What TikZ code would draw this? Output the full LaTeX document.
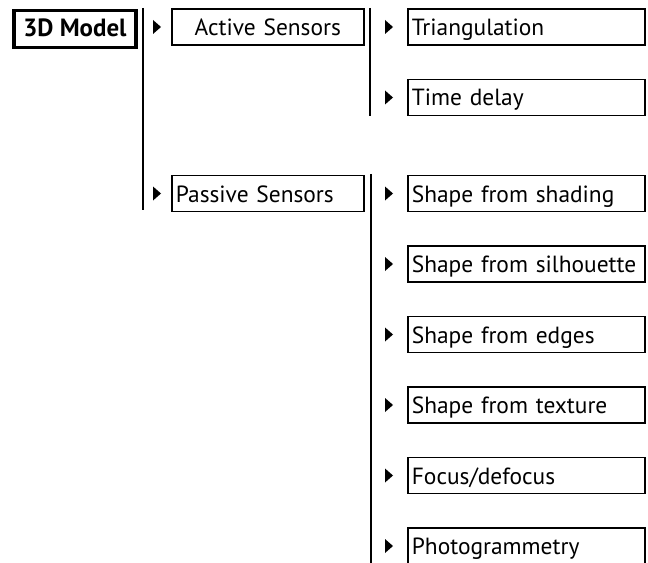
\documentclass[tikz,border=0pt]{standalone}
\usepackage{fontspec}
\setmainfont{PT Sans}
% keep every box label on a single line
\hyphenpenalty=10000
\exhyphenpenalty=10000
\begin{document}
\begin{tikzpicture}[x=1bp,y=-1bp,
  box/.style={draw, line width=1.7bp, inner xsep=4bp, inner ysep=0pt,
    minimum height=36bp, text height=19bp, text depth=2bp,
    font=\fontsize{23.5}{26}\selectfont, anchor=west},
  midbox/.style={box, text width=184bp},
  leafbox/.style={box, text width=229bp, align=left},
  bar/.style={line width=1.8bp},
  tip/.style={fill=black}
]
\useasboundingbox (0,0) rectangle (648,563);

% root
\node[draw, line width=3.8bp, inner xsep=3bp, inner ysep=0pt,
  minimum width=122bp, minimum height=37bp, text height=17bp, text depth=2bp,
  font=\fontsize{25}{28}\selectfont\bfseries, anchor=west] (root) at (12,29) {3D Model};

% second level
\node[midbox, align=center] (act) at (171,27) {Active Sensors};
\node[midbox, align=left] (pas) at (171,193.5) {Passive Sensors};

% leaves
\node[leafbox] (tri) at (407,27) {Triangulation};
\node[leafbox] (tdl) at (407,97.5) {Time delay};
\node[leafbox] (sha) at (407,193.5) {Shape from shading};
\node[leafbox] (sil) at (407,264) {Shape from silhouette};
\node[leafbox] (edg) at (407,334.5) {Shape from edges};
\node[leafbox] (tex) at (407,405) {Shape from texture};
\node[leafbox] (foc) at (407,475.5) {Focus/defocus};
\node[leafbox] (pho) at (407,546) {Photogrammetry};

% bracket bars
\coordinate (b1t) at (143,8);   \coordinate (b1b) at (143,210);
\coordinate (b2t) at (370,8);   \coordinate (b2b) at (370,116);
\coordinate (b3t) at (371,174); \coordinate (b3b) at (371,563);
\draw[bar] (b1t) -- (b1b);
\draw[bar] (b2t) -- (b2b);
\draw[bar] (b3t) -- (b3b);

% pointer triangles in front of each box
\foreach \n in {act,pas}
  \fill[tip] ([xshift=-18bp]\n.west) ++(0,-7) -- ++(8,7) -- ++(-8,7) -- cycle;
\foreach \n in {tri,tdl,sha,sil,edg,tex,foc,pho}
  \fill[tip] ([xshift=-22bp]\n.west) ++(0,-7) -- ++(8,7) -- ++(-8,7) -- cycle;
\end{tikzpicture}
\end{document}
